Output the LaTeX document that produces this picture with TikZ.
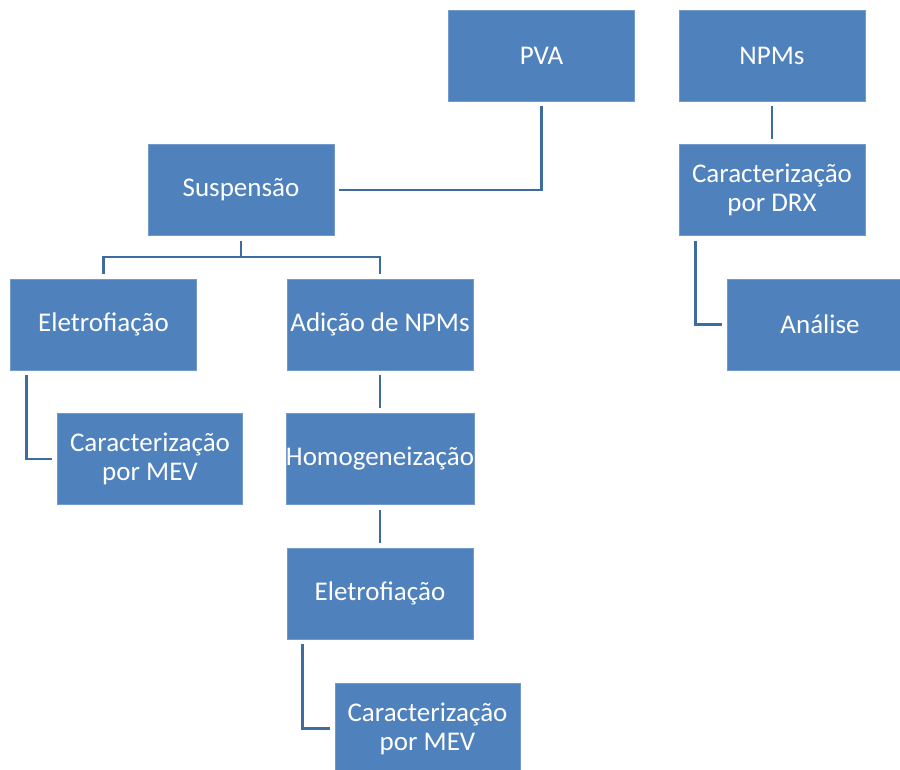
\documentclass[tikz,border=0pt]{standalone}
\usepackage{fontspec}
\setmainfont{Carlito}
\definecolor{boxblue}{HTML}{4F81BD}
\definecolor{linkblue}{HTML}{3F6C9E}
\begin{document}
\begin{tikzpicture}[x=1pt,y=-1pt,
  box/.style={fill=boxblue, draw=boxblue!80!white, line width=0.6pt, text=white,
    minimum width=186pt, minimum height=91pt, inner sep=0pt, align=center,
    font=\fontsize{27}{29}\selectfont},
  link/.style={draw=linkblue, line width=2.5pt, shorten <=5pt, shorten >=5pt}]
\useasboundingbox (0,0) rectangle (900,769);
\clip (0,0) rectangle (900,769);
\node[box] (pva) at (541.5,55.5) {PVA};
\node[box] (npms) at (772,55.5) {NPMs};
\node[box] (susp) at (241,190) {Suspensão};
\node[box] (drx) at (772,190) {Caracterização\\por DRX};
\node[box] (eletro1) at (103.5,324.5) {Eletrofiação};
\node[box] (adicao) at (380,324.5) {Adição de NPMs};
\node[box] (analise) at (820,324.5) {Análise};
\node[box, minimum width=185pt] (mev1) at (150,459) {Caracterização\\por MEV};
\node[box] (homog) at (380,459) {Homogeneização};
\node[box] (eletro2) at (380,593.5) {Eletrofiação};
\node[box, minimum width=185pt] (mev2) at (427.5,728.5) {Caracterização\\por MEV};

\draw[link] (pva.south) |- (susp.east);
\draw[link] (npms) -- (drx);
\draw[link] (susp.south) -- ++(0,21) -| (eletro1.north);
\draw[link, shorten <=0pt] (susp.south) ++(0,21) -| (adicao.north);
\draw[link] ([xshift=16.5pt]eletro1.south west) |- (mev1.west);
\draw[link] ([xshift=17pt]drx.south west) |- (analise.west);
\draw[link] (adicao) -- (homog);
\draw[link] (homog) -- (eletro2);
\draw[link] ([xshift=16pt]eletro2.south west) |- (mev2.west);
\end{tikzpicture}
\end{document}
